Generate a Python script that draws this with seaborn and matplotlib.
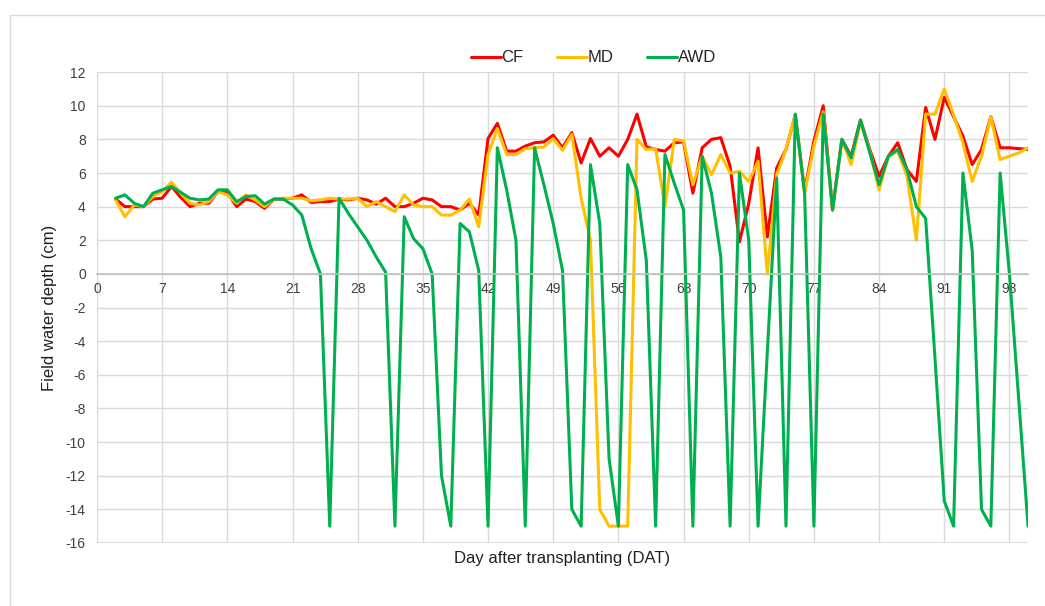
import numpy as np
import pandas as pd
import matplotlib
matplotlib.use("Agg")
import matplotlib.pyplot as plt
import seaborn as sns

# days after transplanting (2..100)
days = list(range(2, 101))

cf = [4.45, 4.0, 4.0, 4.0, 4.45, 4.5, 5.2, 4.55, 4.0, 4.2,
      4.2, 4.9, 4.85, 4.0, 4.45, 4.3, 3.9, 4.45, 4.45, 4.5,
      4.7, 4.25, 4.3, 4.3, 4.45, 4.4, 4.5, 4.4, 4.15, 4.5,
      4.0, 4.0, 4.2, 4.5, 4.4, 4.0, 4.0, 3.8, 4.2, 3.5,
      8.05, 8.95, 7.3, 7.3, 7.6, 7.8, 7.85, 8.25, 7.5, 8.4,
      6.6, 8.05, 7.0, 7.5, 7.0, 8.0, 9.5, 7.55, 7.4, 7.3,
      7.8, 7.85, 4.8, 7.5, 8.0, 8.1, 6.4, 1.9, 4.2, 7.5,
      2.2, 6.3, 7.4, 9.45, 4.9, 7.9, 10.0, 3.8, 8.0, 7.0,
      9.15, 7.4, 5.8, 7.0, 7.8, 6.2, 5.5, 9.9, 8.0, 10.5,
      9.35, 8.2, 6.5, 7.4, 9.35, 7.5, 7.5, 7.45, 7.4]

md = [4.4, 3.4, 4.1, 4.0, 4.6, 4.9, 5.45, 4.8, 4.2, 4.1,
      4.3, 4.9, 4.7, 4.2, 4.7, 4.4, 4.0, 4.45, 4.5, 4.5,
      4.5, 4.35, 4.4, 4.5, 4.45, 4.45, 4.5, 4.0, 4.3, 4.0,
      3.7, 4.7, 4.1, 4.0, 4.0, 3.5, 3.5, 3.8, 4.45, 2.8,
      7.1, 8.65, 7.1, 7.1, 7.45, 7.5, 7.55, 8.05, 7.35, 8.3,
      4.5, 2.0, -14.0, -15.0, -15.0, -15.0, 8.0, 7.4, 7.45, 4.0,
      8.0, 7.9, 5.3, 7.0, 5.9, 7.1, 6.0, 6.1, 5.5, 6.7,
      0.0, 5.9, 7.4, 9.45, 4.8, 7.6, 9.65, 3.8, 8.0, 6.5,
      9.05, 7.3, 5.0, 7.0, 7.3, 5.8, 2.0, 9.5, 9.5, 11.0,
      9.45, 7.8, 5.5, 7.0, 9.35, 6.8, 7.0, 7.2, 7.5]

awd = [4.5, 4.7, 4.2, 4.0, 4.8, 5.0, 5.2, 4.85, 4.5, 4.4,
       4.45, 5.0, 5.0, 4.3, 4.6, 4.65, 4.15, 4.45, 4.45, 4.1,
       3.5, 1.5, 0.0, -15.0, 4.5, 3.6, 2.8, 2.0, 1.0, 0.1,
       -15.0, 3.4, 2.1, 1.5, 0.0, -12.0, -15.0, 3.0, 2.5, 0.2,
       -15.0, 7.5, 5.0, 2.0, -15.0, 7.5, 5.3, 3.0, 0.2, -14.0,
       -15.0, 6.5, 3.0, -11.0, -15.0, 6.5, 5.0, 0.8, -15.0, 7.1,
       5.4, 3.8, -15.0, 7.0, 4.8, 1.0, -15.0, 6.0, 2.0, -15.0,
       -4.6, 5.7, -15.0, 9.5, 4.8, -15.0, 9.5, 3.8, 8.0, 6.9,
       9.15, 7.2, 5.3, 7.0, 7.4, 6.2, 4.0, 3.3, -5.0, -13.5,
       -15.0, 6.0, 1.4, -14.0, -15.0, 6.0, 0.0, -7.5, -15.0]

treatments = ["CF", "MD", "AWD"]
colors = ["#FF0000", "#FFC000", "#00B050"]
x_ticks = list(range(0, 99, 7))
y_ticks = list(range(-16, 13, 2))

df = pd.DataFrame({
    "day": days * 3,
    "depth": cf + md + awd,
    "treatment": np.repeat(treatments, len(days)),
})

sns.set_style("white")
plt.rcParams["font.family"] = ["Liberation Sans", "DejaVu Sans"]
plt.rcParams["axes.unicode_minus"] = False

fig = plt.figure(figsize=(10.45, 6.06), dpi=100)
ax = fig.add_axes([0.0928, 0.104, 0.891, 0.777])

sns.lineplot(data=df, x="day", y="depth", hue="treatment",
             hue_order=treatments, palette=colors, linewidth=2.2,
             ax=ax, legend=True)

ax.set_xlim(0, 100)
ax.set_ylim(-16, 12)
ax.set_xticks(x_ticks)
ax.set_yticks(y_ticks)
ax.grid(True, color="#d9d9d9", linewidth=1.0)
ax.set_axisbelow(True)

for s in ["top", "right", "left"]:
    ax.spines[s].set_visible(False)
ax.spines["bottom"].set_position(("data", 0))
ax.spines["bottom"].set_color("#bfbfbf")
ax.spines["bottom"].set_linewidth(1.2)
ax.axhline(-16, color="#d9d9d9", linewidth=1.2, zorder=0)

ax.tick_params(axis="both", length=0, labelsize=10, colors="#404040")
ax.tick_params(axis="x", pad=6)
ax.tick_params(axis="y", pad=8)

ax.set_xlabel("Day after transplanting (DAT)", fontsize=12, color="#202020")
ax.xaxis.set_label_coords(0.5, -0.016)
ax.set_ylabel("Field water depth (cm)", fontsize=12, color="#202020")
ax.yaxis.set_label_coords(-0.043, 0.5)

leg = ax.legend(loc="center", bbox_to_anchor=(0.533, 1.03), ncol=3,
                frameon=False, fontsize=12, handlelength=1.8,
                columnspacing=2.0, handletextpad=0.05)
for line in leg.get_lines():
    line.set_linewidth(2.2)

# chart area border
fig.patches.append(plt.Rectangle((0.0095, -0.01), 1.0, 0.985,
                                 transform=fig.transFigure, fill=False,
                                 edgecolor="#d9d9d9", linewidth=1.0))

fig.savefig("out.png", dpi=100)
